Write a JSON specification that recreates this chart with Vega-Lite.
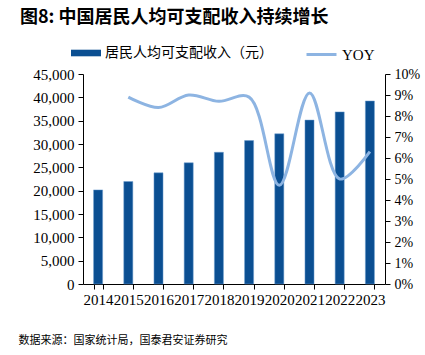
{
  "$schema": "https://vega.github.io/schema/vega-lite/v6.json",
  "width": 302,
  "height": 210,
  "autosize": "none",
  "padding": {"left": 83, "top": 74, "right": 40, "bottom": 71},
  "background": "white",
  "config": {"view": {"stroke": null}, "axis": {"grid": false}},
  "title": {
    "text": "图8:  中国居民人均可支配收入持续增长",
    "anchor": "start",
    "frame": "group",
    "dx": -63,
    "offset": 11,
    "font": "Noto Sans CJK SC",
    "fontSize": 18,
    "fontWeight": "bold",
    "color": "#000000"
  },
  "data": {
    "values": [
      {"year": "2014", "income": 20167, "yoy": null},
      {"year": "2015", "income": 21966, "yoy": 0.089},
      {"year": "2016", "income": 23821, "yoy": 0.084},
      {"year": "2017", "income": 25974, "yoy": 0.090},
      {"year": "2018", "income": 28228, "yoy": 0.087},
      {"year": "2019", "income": 30733, "yoy": 0.089},
      {"year": "2020", "income": 32189, "yoy": 0.047},
      {"year": "2021", "income": 35128, "yoy": 0.091},
      {"year": "2022", "income": 36883, "yoy": 0.050},
      {"year": "2023", "income": 39218, "yoy": 0.063}
    ]
  },
  "encoding": {
    "x": {
      "field": "year",
      "type": "ordinal",
      "scale": {"paddingInner": 0.7, "paddingOuter": 0.35},
      "axis": {
        "labelAngle": 0,
        "tickBand": "extent",
        "labelFont": "Liberation Serif",
        "labelFontSize": 15,
        "labelColor": "#000000",
        "domainColor": "#000000",
        "tickColor": "#000000",
        "tickSize": 5,
        "labelPadding": 3,
        "labelOverlap": false,
        "title": "数据来源：国家统计局，国泰君安证券研究",
        "titleFont": "Noto Sans CJK SC",
        "titleFontSize": 11,
        "titleFontWeight": "normal",
        "titleColor": "#000000",
        "titleX": -65,
        "titleY": 56,
        "titleAlign": "left",
        "titleAnchor": "start",
        "titleBaseline": "middle"
      }
    }
  },
  "layer": [
    {
      "mark": {"type": "bar", "stroke": "#6f9fd0", "strokeWidth": 0.5},
      "encoding": {
        "y": {
          "field": "income",
          "type": "quantitative",
          "scale": {"domain": [0, 45000], "nice": false},
          "axis": {
            "values": [0, 5000, 10000, 15000, 20000, 25000, 30000, 35000, 40000, 45000],
            "format": ",d",
            "title": null,
            "labelFont": "Liberation Serif",
            "labelFontSize": 15,
            "labelColor": "#000000",
            "domainColor": "#000000",
            "tickColor": "#000000",
            "tickSize": 5,
            "labelPadding": 4
          }
        },
        "fill": {
          "datum": "居民人均可支配收入（元）",
          "scale": {"range": ["#0B4F92"]},
          "legend": {
            "orient": "none",
            "legendX": -12,
            "legendY": -36,
            "title": null,
            "symbolType": "M-1,-0.22H1V0.22H-1Z",
            "symbolSize": 900,
            "symbolStrokeWidth": 0,
            "labelFont": "Noto Sans CJK SC",
            "labelFontSize": 14,
            "labelColor": "#000000",
            "labelOffset": 4,
            "labelLimit": 300
          }
        }
      }
    },
    {
      "mark": {"type": "line", "interpolate": "catmull-rom", "strokeWidth": 3},
      "transform": [{"filter": "datum.yoy != null"}],
      "encoding": {
        "y": {
          "field": "yoy",
          "type": "quantitative",
          "scale": {"domain": [0, 0.1], "nice": false},
          "axis": {
            "orient": "right",
            "values": [0, 0.01, 0.02, 0.03, 0.04, 0.05, 0.06, 0.07, 0.08, 0.09, 0.1],
            "format": ".0%",
            "title": null,
            "labelFont": "Liberation Serif",
            "labelFontSize": 14,
            "labelColor": "#000000",
            "domainColor": "#000000",
            "tickColor": "#000000",
            "tickSize": 5,
            "labelPadding": 4
          }
        },
        "stroke": {
          "datum": "YOY",
          "scale": {"range": ["#8DB4E2"]},
          "legend": {
            "orient": "none",
            "legendX": 222,
            "legendY": -36,
            "title": null,
            "symbolType": "stroke",
            "symbolSize": 900,
            "symbolStrokeWidth": 3,
            "labelFont": "Liberation Serif",
            "labelFontSize": 15,
            "labelColor": "#000000",
            "labelOffset": 4
          }
        }
      }
    }
  ],
  "resolve": {"scale": {"y": "independent", "fill": "independent", "stroke": "independent"}}
}
